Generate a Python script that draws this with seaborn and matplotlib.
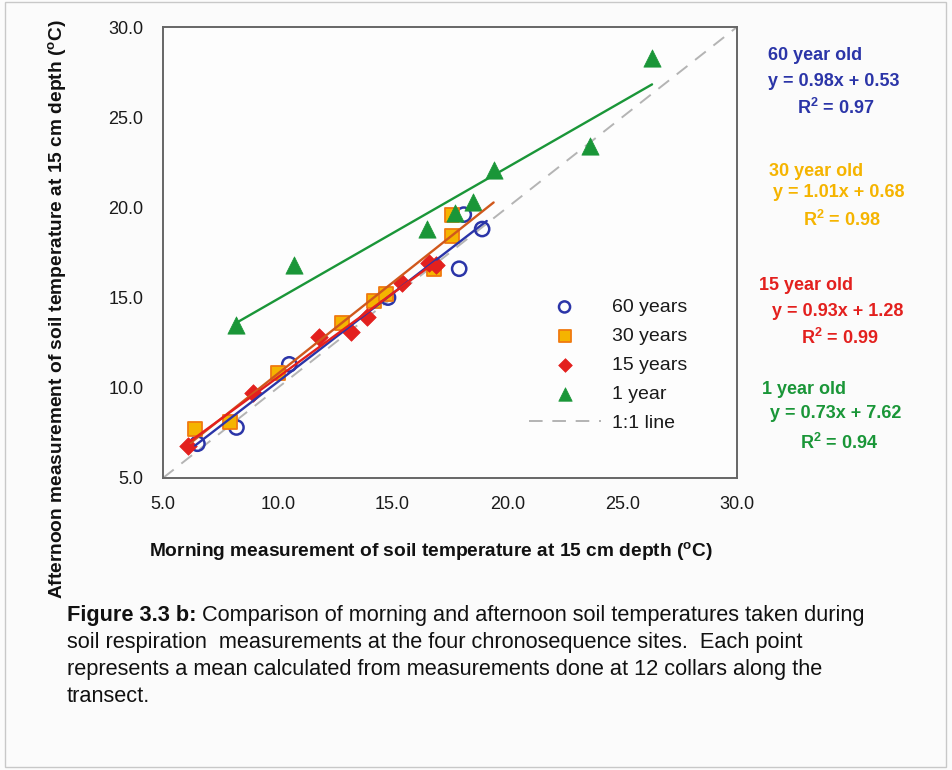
import matplotlib
matplotlib.use("Agg")
import matplotlib.pyplot as plt
import seaborn as sns
import numpy as np
import pandas as pd
from matplotlib.patches import Rectangle

# ---- data: morning (x) vs afternoon (y) soil temperature, degC ----
x60 = [6.5, 8.2, 10.5, 14.8, 17.9, 18.1, 18.9]
y60 = [6.9, 7.8, 11.3, 15.0, 16.6, 19.6, 18.8]

x30 = [6.4, 7.9, 10.0, 12.8, 14.2, 14.7, 16.8, 17.6, 17.6]
y30 = [7.7, 8.1, 10.8, 13.6, 14.8, 15.2, 16.6, 18.4, 19.6]

x15 = [6.1, 8.9, 11.8, 13.2, 13.9, 15.4, 16.6, 16.9]
y15 = [6.8, 9.7, 12.8, 13.1, 13.9, 15.8, 16.9, 16.8]

x1 = [8.2, 10.7, 16.5, 17.7, 18.5, 19.4, 23.6, 26.3]
y1 = [13.5, 16.8, 18.8, 19.7, 20.3, 22.1, 23.4, 28.3]

# linear trendlines: slope, intercept, R^2, x extent
slopes = [0.98, 1.01, 0.93, 0.73]
intercepts = [0.53, 0.68, 1.28, 7.62]
r2 = [0.97, 0.98, 0.99, 0.94]
fit_x0 = [6.4, 6.2, 5.9, 8.2]
fit_x1 = [19.1, 19.4, 16.9, 26.3]

labels = ["60 years", "30 years", "15 years", "1 year"]
eq_titles = ["60 year old", "30 year old", "15 year old", "1 year old"]
ticks = [5.0, 10.0, 15.0, 20.0, 25.0, 30.0]

sns.set_theme(style="white")
plt.rcParams["font.family"] = ["Liberation Sans", "DejaVu Sans"]
plt.rcParams["mathtext.fontset"] = "custom"
plt.rcParams["mathtext.rm"] = "Liberation Sans"
plt.rcParams["mathtext.bf"] = "Liberation Sans:bold"
plt.rcParams["mathtext.it"] = "Liberation Sans:italic"

W, H = 953, 770
fig = plt.figure(figsize=(W / 100, H / 100), dpi=100)
fig.patch.set_facecolor("#fbfbfb")


def fx(px):
    return px / W


def fy(py):
    return 1 - py / H


ax = fig.add_axes([fx(163), fy(478), fx(737) - fx(163), fy(27) - fy(478)])
ax.set_facecolor("#fdfdfd")

blue = "#2b35a8"
gold = "#f5b400"
orange_edge = "#f07a10"
red = "#e3201e"
green = "#1a9638"
trend30 = "#d0581c"

# scatter series
sns.scatterplot(x=x60, y=y60, ax=ax, marker="o", s=105, facecolor="none",
                edgecolor=blue, linewidth=1.8, label=labels[0], zorder=3)
sns.scatterplot(x=x30, y=y30, ax=ax, marker="s", s=115, color=gold,
                edgecolor=orange_edge, linewidth=1.3, label=labels[1], zorder=4)
sns.scatterplot(x=x15, y=y15, ax=ax, marker="D", s=80, color=red,
                edgecolor=red, linewidth=0.5, label=labels[2], zorder=5)
sns.scatterplot(x=x1, y=y1, ax=ax, marker="^", s=155, color=green,
                edgecolor=green, linewidth=0.5, label=labels[3], zorder=6)

# trendlines from the stated equations
line_colors = [blue, trend30, red, green]
for m, b, a0, a1, c in zip(slopes, intercepts, fit_x0, fit_x1, line_colors):
    xs = np.array([a0, a1])
    sns.lineplot(x=xs, y=m * xs + b, ax=ax, color=c, linewidth=1.7,
                 legend=False, zorder=7)

# 1:1 reference line
ref = pd.DataFrame({"x": [ticks[0], ticks[-1]], "y": [ticks[0], ticks[-1]]})
sns.lineplot(data=ref, x="x", y="y", ax=ax, color="#b4b4b4", linewidth=1.4,
             dashes=False, label="1:1 line", zorder=2)
ax.lines[-1].set_dashes([7, 5])

ax.set_xlim(ticks[0], ticks[-1])
ax.set_ylim(ticks[0], ticks[-1])
ax.set_xticks(ticks)
ax.set_yticks(ticks)
ax.set_xticklabels([f"{t:.1f}" for t in ticks], fontsize=13, color="#1a1a1a")
ax.set_yticklabels([f"{t:.1f}" for t in ticks], fontsize=13, color="#1a1a1a")
ax.tick_params(axis="both", direction="out", length=4, width=1, color="#666666")
ax.tick_params(axis="x", pad=9)
ax.tick_params(axis="y", pad=10)
ax.set_xlabel("")
ax.set_ylabel("")
for sp in ax.spines.values():
    sp.set_color("#666666")
    sp.set_linewidth(1.4)

leg = ax.legend(loc="center", bbox_to_anchor=(fx(608), fy(365)),
                bbox_transform=fig.transFigure, frameon=False, fontsize=14,
                handlelength=3.7, handletextpad=0.6, labelspacing=0.58,
                markerscale=0.78)
for t in leg.get_texts():
    t.set_color("#1a1a1a")

# axis titles
fig.text(fx(431), fy(551),
         r"Morning measurement of soil temperature at 15 cm depth ($^{\mathbf{o}}$C)",
         ha="center", va="center", fontsize=13.8, fontweight="bold", color="#111111")
fig.text(fx(57), fy(309),
         r"Afternoon measurement of soil temperature at 15 cm depth ($^{\mathbf{o}}$C)",
         ha="center", va="center", rotation=90, fontsize=13.8, fontweight="bold",
         color="#111111")

# regression equations beside the plot
eq_colors = [blue, gold, red, green]
eq_pos = [
    ((768, 55), (768, 81), (797, 108)),
    ((769, 172), (773, 193), (803, 220)),
    ((759, 286), (772, 311), (801, 338)),
    ((762, 389), (770, 414), (800, 443)),
]
for title, m, b, r, c, pos in zip(eq_titles, slopes, intercepts, r2, eq_colors, eq_pos):
    lines = [title, f"y = {m:.2f}x + {b:.2f}", r"R$^{\mathbf{2}}$" + f" = {r:.2f}"]
    for txt, (px, py) in zip(lines, pos):
        fig.text(fx(px), fy(py), txt, ha="left", va="center", fontsize=13,
                 fontweight="bold", color=c)

# caption: bold figure number followed by regular text
cap_size = 15.7
head = fig.text(fx(67), fy(621), "Figure 3.3 b:", ha="left", va="baseline",
                fontsize=cap_size, fontweight="bold", color="#111111")
fig.canvas.draw()
head_end = head.get_window_extent().x1
caption = [
    " Comparison of morning and afternoon soil temperatures taken during",
    "soil respiration  measurements at the four chronosequence sites.  Each point",
    "represents a mean calculated from measurements done at 12 collars along the",
    "transect.",
]
for i, line in enumerate(caption):
    x0 = head_end / W if i == 0 else fx(67)
    fig.text(x0, fy(621 + 27 * i), line, ha="left", va="baseline",
             fontsize=cap_size, color="#111111")

# page border
fig.add_artist(Rectangle((fx(5), fy(767)), fx(946) - fx(5), fy(2) - fy(767),
                         transform=fig.transFigure, fill=False,
                         edgecolor="#c8c8c8", linewidth=1.0))

fig.savefig("out.png", dpi=100)
